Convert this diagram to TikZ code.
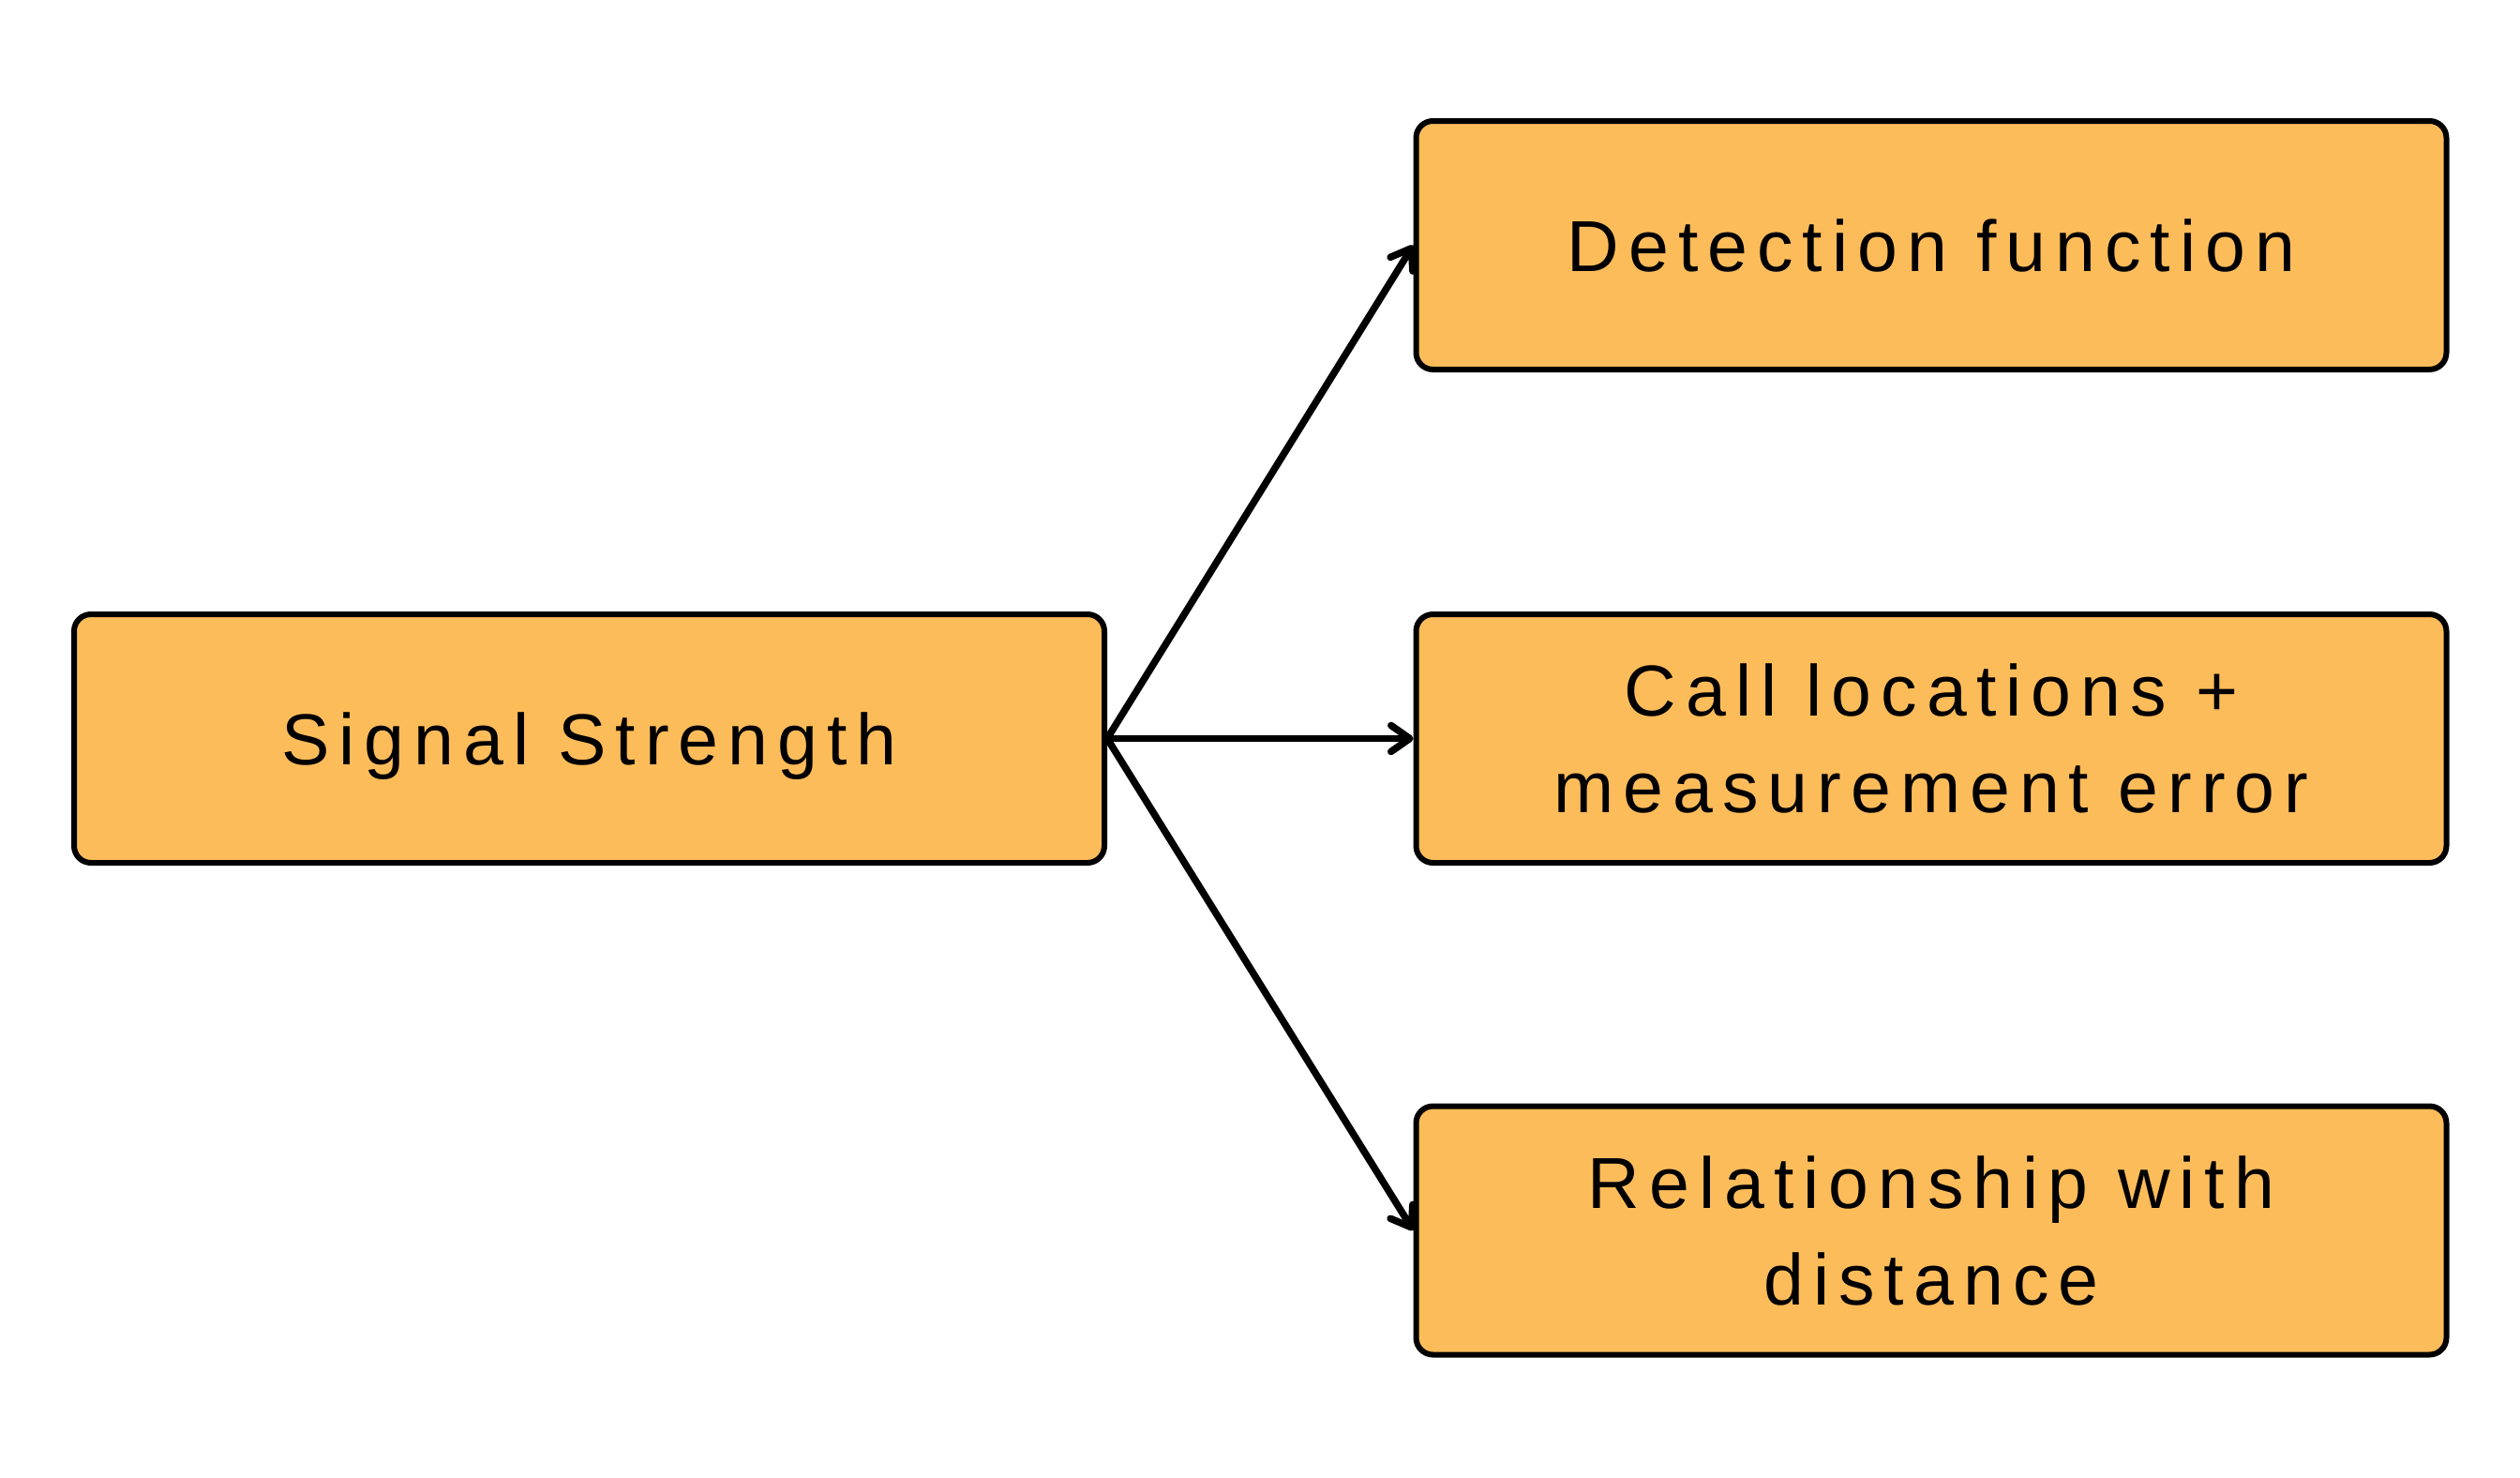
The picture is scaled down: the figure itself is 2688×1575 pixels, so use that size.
\documentclass[tikz,border=0pt]{standalone}
\usepackage{fontspec}
\setmainfont[LetterSpace=13]{Liberation Sans}
\usetikzlibrary{arrows.meta}
\definecolor{boxfill}{HTML}{FDBC5A}
\begin{document}
\begin{tikzpicture}[x=1pt,y=-1pt,
  box/.style={draw=black,line width=6pt,fill=boxfill,rounded corners=18pt,
    minimum width=1099pt,minimum height=265pt,inner sep=0pt,align=center,
    font=\fontsize{77}{103}\selectfont},
  conn/.style={line width=7.5pt,-{Straight Barb[length=20pt,width=28pt,line cap=round,line join=round]}}]
\useasboundingbox (0,0) rectangle (2688,1575);
\node[box,text depth=0pt] (sig) at (628.5,787.5) {Signal Strength};
\node[box] (det) at (2060,261.5) {Detection function};
\node[box] (call) at (2060,787.5) {Call locations +\\measurement error};
\node[box] (rel) at (2060,1312) {Relationship with\\distance};
\draw[conn] (sig.east) -- (det.west);
\draw[conn] (sig.east) -- (call.west);
\draw[conn] (sig.east) -- (rel.west);
\end{tikzpicture}
\end{document}
